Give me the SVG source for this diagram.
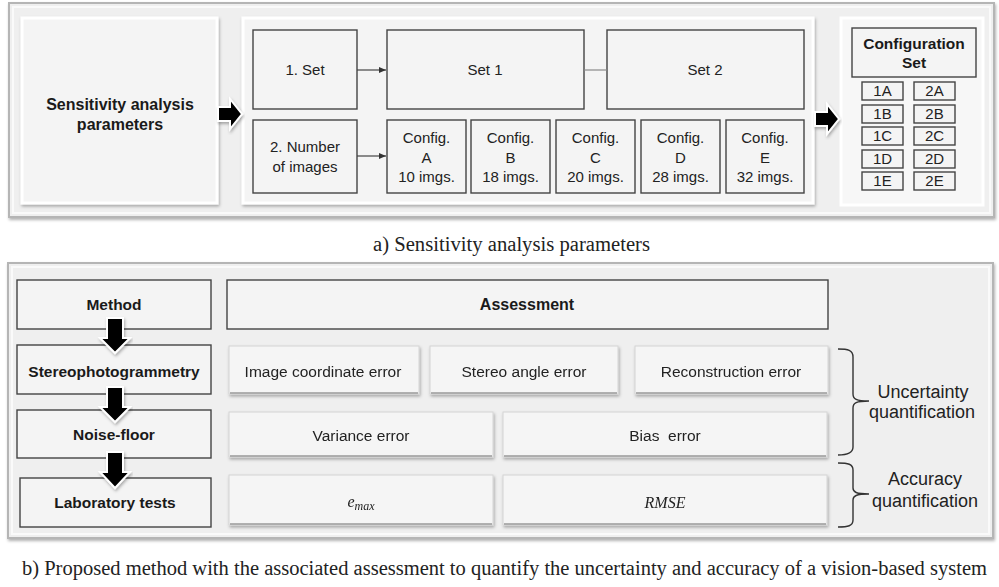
<svg xmlns="http://www.w3.org/2000/svg" width="999" height="587" viewBox="0 0 999 587">
<defs>
<style>
.frame{fill:#efefef;stroke:#b5b5b5;stroke-width:2}
.panel{fill:#f4f4f4;stroke:#ffffff;stroke-width:3}
.box{fill:#f4f4f4;stroke:#444;stroke-width:1.4}
.raised{fill:#f5f5f5;stroke:#d4d4d4;stroke-width:1}
.edge{stroke:#999;stroke-width:1.6;fill:none}
.t{font-family:"Liberation Sans",Arial,sans-serif;font-size:15px;fill:#222;text-anchor:middle}
.b{font-family:"Liberation Sans",Arial,sans-serif;font-size:15.5px;font-weight:bold;fill:#1a1a1a;text-anchor:middle}
.r{font-family:"Liberation Sans",Arial,sans-serif;font-size:15.5px;fill:#222;text-anchor:middle}
.q{font-family:"Liberation Sans",Arial,sans-serif;font-size:18px;fill:#222;text-anchor:middle}
.m{font-family:"Liberation Serif","Times New Roman",serif;font-style:italic;font-size:16px;fill:#222;text-anchor:middle}
.cap{font-family:"Liberation Serif","Times New Roman",serif;font-size:20.5px;fill:#222}
.blk{fill:#000;stroke:#fff;stroke-width:2}
.ln{stroke:#444;stroke-width:1.2;fill:none}
.br{stroke:#333;stroke-width:1.4;fill:none}
</style>
<filter id="sh" x="-10%" y="-10%" width="120%" height="130%">
<feDropShadow dx="1" dy="2" stdDeviation="1.5" flood-color="#000" flood-opacity="0.3"/>
</filter>
<marker id="ah" markerWidth="8" markerHeight="8" refX="7" refY="4" orient="auto" markerUnits="userSpaceOnUse">
<path d="M0,1 L7,4 L0,7 Z" fill="#333"/>
</marker>
</defs>

<!-- Panel a -->
<g id="panelA">
<rect class="frame" x="9" y="3" width="985" height="214" filter="url(#sh)"/>
<rect x="13" y="7" width="977" height="206" fill="none" stroke="#fafafa" stroke-width="2"/>
</g>
<g id="sensitivity">
<rect class="panel" x="22" y="18" width="195" height="185" filter="url(#sh)"/>
<text class="b" x="120" y="110" style="font-size:16px">Sensitivity analysis</text>
<text class="b" x="120" y="130" style="font-size:16px">parameters</text>
</g>
<g id="middlePanel">
<rect class="panel" x="243" y="18" width="570" height="185" filter="url(#sh)"/>
</g>
<g id="set">
<rect class="box" x="253" y="30" width="104" height="79"/>
<text class="t" x="305" y="75">1. Set</text>
</g>
<g id="set1">
<rect class="box" x="387" y="30" width="197" height="79"/>
<text class="t" x="485" y="75">Set 1</text>
</g>
<g id="set2">
<rect class="box" x="607" y="30" width="197" height="79"/>
<text class="t" x="705" y="75">Set 2</text>
</g>
<g id="numImages">
<rect class="box" x="253" y="120" width="104" height="73"/>
<text class="t" x="305" y="152">2. Number</text>
<text class="t" x="305" y="172">of images</text>
</g>
<g id="configA">
<rect class="box" x="387" y="120" width="79" height="73"/>
<text class="t" x="426.5" y="143">Config.</text>
<text class="t" x="426.5" y="163">A</text>
<text class="t" x="426.5" y="182">10 imgs.</text>
</g>
<g id="configB">
<rect class="box" x="471" y="120" width="79" height="73"/>
<text class="t" x="510.5" y="143">Config.</text>
<text class="t" x="510.5" y="163">B</text>
<text class="t" x="510.5" y="182">18 imgs.</text>
</g>
<g id="configC">
<rect class="box" x="556" y="120" width="79" height="73"/>
<text class="t" x="595.5" y="143">Config.</text>
<text class="t" x="595.5" y="163">C</text>
<text class="t" x="595.5" y="182">20 imgs.</text>
</g>
<g id="configD">
<rect class="box" x="641" y="120" width="79" height="73"/>
<text class="t" x="680.5" y="143">Config.</text>
<text class="t" x="680.5" y="163">D</text>
<text class="t" x="680.5" y="182">28 imgs.</text>
</g>
<g id="configE">
<rect class="box" x="726" y="120" width="78" height="73"/>
<text class="t" x="765" y="143">Config.</text>
<text class="t" x="765" y="163">E</text>
<text class="t" x="765" y="182">32 imgs.</text>
</g>
<g id="configPanel">
<rect class="panel" x="841" y="18" width="142" height="187" style="fill:#f7f7f7"/>
</g>
<g id="configSet">
<rect class="box" x="852" y="28" width="124" height="49"/>
<text class="b" x="914" y="49">Configuration</text>
<text class="b" x="914" y="68">Set</text>
</g>
<g id="cells">
<rect class="box" x="862" y="82" width="41" height="18"/><text class="t" x="882.5" y="96">1A</text>
<rect class="box" x="914" y="82" width="41" height="18"/><text class="t" x="934.5" y="96">2A</text>
<rect class="box" x="862" y="105" width="41" height="18"/><text class="t" x="882.5" y="119">1B</text>
<rect class="box" x="914" y="105" width="41" height="18"/><text class="t" x="934.5" y="119">2B</text>
<rect class="box" x="862" y="127" width="41" height="18"/><text class="t" x="882.5" y="141">1C</text>
<rect class="box" x="914" y="127" width="41" height="18"/><text class="t" x="934.5" y="141">2C</text>
<rect class="box" x="862" y="150" width="41" height="18"/><text class="t" x="882.5" y="164">1D</text>
<rect class="box" x="914" y="150" width="41" height="18"/><text class="t" x="934.5" y="164">2D</text>
<rect class="box" x="862" y="172" width="41" height="18"/><text class="t" x="882.5" y="186">1E</text>
<rect class="box" x="914" y="172" width="41" height="18"/><text class="t" x="934.5" y="186">2E</text>
</g>

<text class="cap" x="373" y="251" textLength="277" lengthAdjust="spacingAndGlyphs">a) Sensitivity analysis parameters</text>

<!-- Panel b -->
<g id="panelB">
<rect class="frame" x="8" y="263" width="985" height="275" filter="url(#sh)"/>
<rect x="12" y="267" width="977" height="267" fill="none" stroke="#fafafa" stroke-width="2"/>
</g>
<g id="method">
<rect class="box" x="17" y="280" width="194" height="49"/>
<text class="b" x="114" y="310">Method</text>
</g>
<g id="stereo">
<rect class="box" x="17" y="345" width="194" height="49"/>
<text class="b" x="114" y="377">Stereophotogrammetry</text>
</g>
<g id="noise">
<rect class="box" x="17" y="410" width="194" height="48"/>
<text class="b" x="114" y="440">Noise-floor</text>
</g>
<g id="lab">
<rect class="box" x="20" y="478" width="191" height="49"/>
<text class="b" x="115" y="508">Laboratory tests</text>
</g>
<g id="assessment">
<rect class="box" x="227" y="280" width="601" height="49"/>
<text class="b" x="527" y="310" style="font-size:16px">Assessment</text>
</g>
<g id="imgCoord" filter="url(#sh)">
<rect class="raised" x="229" y="346" width="190" height="48"/>
<line class="edge" x1="230" y1="393" x2="418" y2="393"/>
<text class="r" x="323" y="377">Image coordinate error</text>
</g>
<g id="stereoAngle" filter="url(#sh)">
<rect class="raised" x="430" y="346" width="188" height="48"/>
<line class="edge" x1="431" y1="393" x2="617" y2="393"/>
<text class="r" x="524" y="377">Stereo angle error</text>
</g>
<g id="recon" filter="url(#sh)">
<rect class="raised" x="635" y="346" width="193" height="48"/>
<line class="edge" x1="636" y1="393" x2="827" y2="393"/>
<text class="r" x="731" y="377">Reconstruction error</text>
</g>
<g id="variance" filter="url(#sh)">
<rect class="raised" x="229" y="412" width="264" height="45"/>
<line class="edge" x1="230" y1="456" x2="492" y2="456"/>
<text class="r" x="361" y="441">Variance error</text>
</g>
<g id="bias" filter="url(#sh)">
<rect class="raised" x="503" y="412" width="324" height="45"/>
<line class="edge" x1="504" y1="456" x2="826" y2="456"/>
<text class="r" x="665" y="441" xml:space="preserve">Bias  error</text>
</g>
<g id="emax" filter="url(#sh)">
<rect class="raised" x="229" y="475" width="264" height="50"/>
<line class="edge" x1="230" y1="524" x2="492" y2="524"/>
<text class="m" x="361" y="507">e<tspan font-size="12" dy="3">max</tspan></text>
</g>
<g id="rmse" filter="url(#sh)">
<rect class="raised" x="503" y="475" width="324" height="50"/>
<line class="edge" x1="504" y1="524" x2="826" y2="524"/>
<text class="m" x="665" y="508">RMSE</text>
</g>

<g id="connectors">
<line class="ln" x1="357" y1="70" x2="386" y2="70" marker-end="url(#ah)"/>
<line class="ln" x1="357" y1="156" x2="386" y2="156" marker-end="url(#ah)"/>
<line x1="584" y1="70" x2="607" y2="70" stroke="#888" stroke-width="1.2"/>
<polygon class="blk" points="218,107 230,107 230,99 242,114 230,129 230,121 218,121" filter="url(#sh)"/>
<polygon class="blk" points="815,112 827,112 827,104 839,119 827,134 827,126 815,126" filter="url(#sh)"/>
<polygon class="blk" points="107,318 123,318 123,338 130,338 115,353 100,338 107,338" filter="url(#sh)"/>
<polygon class="blk" points="107,387 123,387 123,407 130,407 115,422 100,407 107,407" filter="url(#sh)"/>
<polygon class="blk" points="107,452 123,452 123,472 130,472 115,488 100,472 107,472" filter="url(#sh)"/>
<path class="br" d="M838,349 C848,349 853,350 853,357 L853,394 C853,399 856,401 869,401 C856,401 853,403 853,408 L853,447 C853,453 848,455 838,455"/>
<path class="br" d="M838,463 C848,463 853,464 853,470 L853,488 C853,492 856,494 869,494 C856,494 853,496 853,500 L853,520 C853,526 848,527 838,527"/>
</g>

<g id="uncertaintyLabel">
<text class="q" x="923" y="398">Uncertainty</text>
<text class="q" x="922" y="418">quantification</text>
</g>
<g id="accuracyLabel">
<text class="q" x="925" y="485">Accuracy</text>
<text class="q" x="925" y="507">quantification</text>
</g>

<text class="cap" x="22" y="575" textLength="965" lengthAdjust="spacingAndGlyphs">b) Proposed method with the associated assessment to quantify the uncertainty and accuracy of a vision-based system</text>
</svg>
